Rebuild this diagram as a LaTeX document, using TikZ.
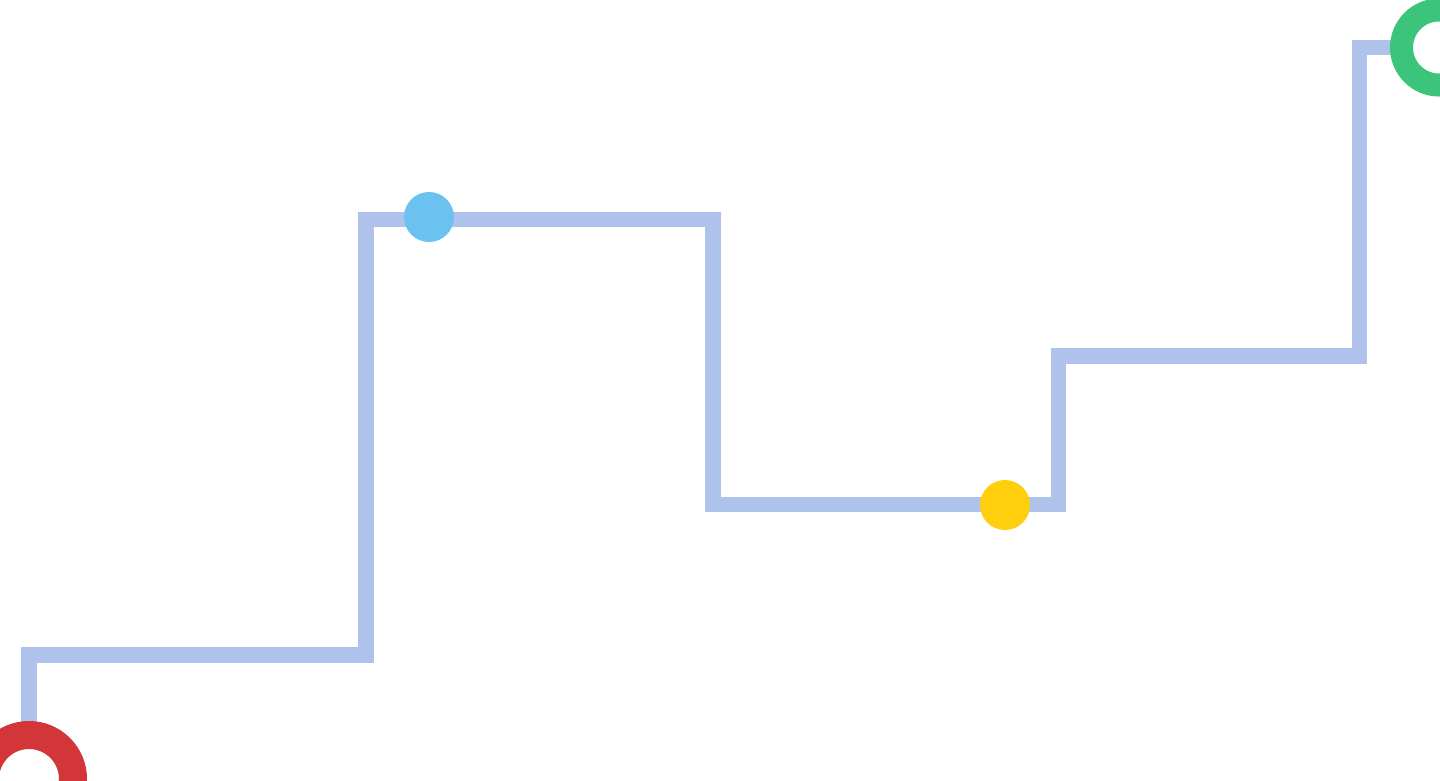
\documentclass[tikz,border=0pt]{standalone}
\usepackage{tikz}

\definecolor{trackblue}{HTML}{AEC2EC}
\definecolor{ringred}{HTML}{D33638}
\definecolor{ringgreen}{HTML}{3BC47A}
\definecolor{dotblue}{HTML}{6BC2EE}
\definecolor{dotyellow}{HTML}{FFCF0E}

\tikzset{
  track/.style={draw=trackblue,line width=15.5pt,line join=miter},
  ring/.style={circle,fill=white,line width=#1,inner sep=0pt},
  dot/.style={circle,minimum size=50pt,inner sep=0pt}
}

\begin{document}
\begin{tikzpicture}[x=1pt,y=-1pt]
\useasboundingbox (0,0) rectangle (1440,781);
% corners of the track
\coordinate (start) at (29,779);
\coordinate (c1) at (29,655);
\coordinate (c2) at (366,655);
\coordinate (c3) at (366,219.5);
\coordinate (c4) at (713,219.5);
\coordinate (c5) at (713,504.5);
\coordinate (c6) at (1058.5,504.5);
\coordinate (c7) at (1058.5,356);
\coordinate (c8) at (1359.5,356);
\coordinate (c9) at (1359.5,47.5);
\coordinate (finish) at (1439,47.5);
\draw[track] (start) -- (c1) -- (c2) -- (c3) -- (c4) -- (c5) -- (c6) -- (c7)
  -- (c8) -- (c9) -- (finish);
\node[ring=28pt,draw=ringred,minimum size=88pt] (begin) at (start) {};
\node[ring=23pt,draw=ringgreen,minimum size=75pt] (end) at (finish) {};
\node[dot,fill=dotblue] (peak) at (429,217) {};
\node[dot,fill=dotyellow] (valley) at (1005,505) {};
\end{tikzpicture}
\end{document}
